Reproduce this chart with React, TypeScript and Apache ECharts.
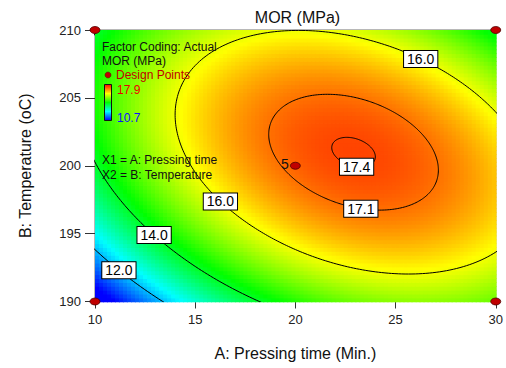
import React, { useEffect, useRef } from 'react';
import * as echarts from 'echarts';

const titleText = 'MOR (MPa)';
const xName = 'A: Pressing time (Min.)';
const yName = 'B: Temperature (oC)';
const xMin = 10, xMax = 30, xStep = 5;
const yMin = 190, yMax = 210, yStep = 5;
// Fitted quadratic model, coded units: x1=(A-20)/10, x2=(B-200)/10
const modelTerms = ['Intercept', 'A', 'B', 'AB', 'A^2', 'B^2'];
const modelCoefficients = [17.2, 1.27, 0.74, -1.21, -1.98, -1.95];
const colorRangeMax = 17.9;
const colorRangeMin = 10.7;
const contourLevels = [12.0, 14.0, 16.0, 17.1, 17.4];
const contourLabelLevels = [12.0, 14.0, 16.0, 16.0, 17.1, 17.4];
const contourLabelAngles = [216.6, 211.5, 208.6, 64, 275, 278];
const designA = [10, 10, 30, 30, 20];
const designB = [190, 210, 190, 210, 200];
const designReps = [1, 1, 1, 1, 5];
const palette = ['#0000ff', '#00ffff', '#00ff00', '#ffff00', '#ff0000'];
const legendLines = ['Factor Coding: Actual', 'MOR (MPa)'];
const factorLines = ['X1 = A: Pressing time', 'X2 = B: Temperature'];

const FONT = 'Arial, "Liberation Sans", sans-serif';

const coef = (name: string) => modelCoefficients[modelTerms.indexOf(name)];
const b0 = coef('Intercept'), b1 = coef('A'), b2 = coef('B');
const b12 = coef('AB'), b11 = coef('A^2'), b22 = coef('B^2');

function modelCoded(x1: number, x2: number) {
  return b0 + b1 * x1 + b2 * x2 + b12 * x1 * x2 + b11 * x1 * x1 + b22 * x2 * x2;
}
function modelActual(A: number, B: number) {
  return modelCoded((A - 20) / 10, (B - 200) / 10);
}
const det = 4 * b11 * b22 - b12 * b12;
const xs1 = (-2 * b1 * b22 + b12 * b2) / det;
const xs2 = (-2 * b11 * b2 + b12 * b1) / det;
const ys = modelCoded(xs1, xs2);

function ellipsePoint(level: number, deg: number): [number, number] {
  const t = (deg * Math.PI) / 180;
  const c = Math.cos(t), s = Math.sin(t);
  const q = -(b11 * c * c + b22 * s * s + b12 * c * s);
  const r = Math.sqrt(Math.max(0, ys - level) / q);
  return [20 + 10 * (xs1 + r * c), 200 + 10 * (xs2 + r * s)];
}

const nA = 100, nB = 70;
const dA = (xMax - xMin) / nA, dB = (yMax - yMin) / nB;
const heatData: number[][] = [];
for (let i = 0; i < nA; i++) {
  for (let j = 0; j < nB; j++) {
    const a = xMin + (i + 0.5) * dA;
    const b = yMin + (j + 0.5) * dB;
    heatData.push([a, b, modelActual(a, b)]);
  }
}

function colorFor(v: number) {
  let t = (v - colorRangeMin) / (colorRangeMax - colorRangeMin);
  t = Math.max(0, Math.min(1, t));
  return echarts.color.lerp(t, palette) as string;
}

export default function App() {
  const ref = useRef<HTMLDivElement>(null);
  useEffect(() => {
    if (!ref.current) return;
    const chart = echarts.init(ref.current, undefined, { renderer: 'svg' });
    const gridLeft = 95, gridTop = 30, gridW = 405, gridH = 271.5;

    const contourSeries = contourLevels.map((lv) => {
      const pts: number[][] = [];
      for (let k = 0; k <= 360; k += 1) pts.push(ellipsePoint(lv, k));
      return {
        type: 'line',
        data: pts,
        showSymbol: false,
        symbol: 'none',
        smooth: false,
        clip: true,
        silent: true,
        z: 3,
        lineStyle: { color: '#000', width: 1 },
      };
    });

    const labelData = contourLabelLevels.map((lv, i) => {
      const p = ellipsePoint(lv, contourLabelAngles[i]);
      return [p[0], p[1], lv.toFixed(1)];
    });

    const option: any = {
      animation: false,
      textStyle: { fontFamily: FONT },
      grid: {
        left: gridLeft, top: gridTop, width: gridW, height: gridH,
        show: true, borderColor: '#707070', borderWidth: 1,
        backgroundColor: 'transparent',
      },
      xAxis: {
        type: 'value', min: xMin, max: xMax, interval: xStep,
        splitLine: { show: false },
        axisLine: { show: true, onZero: false, lineStyle: { color: '#333', width: 1 } },
        axisTick: { show: true, inside: false, length: 7, lineStyle: { color: '#333' } },
        axisLabel: { fontSize: 13, color: '#222', margin: 11, fontFamily: FONT },
        name: xName, nameLocation: 'middle', nameGap: 44,
        nameTextStyle: { fontSize: 16, color: '#111', fontFamily: FONT },
      },
      yAxis: {
        type: 'value', min: yMin, max: yMax, interval: yStep,
        splitLine: { show: false },
        axisLine: { show: true, onZero: false, lineStyle: { color: '#333', width: 1 } },
        axisTick: { show: true, inside: false, length: 10, lineStyle: { color: '#333' } },
        axisLabel: { fontSize: 13, color: '#222', margin: 14, fontFamily: FONT },
        name: yName, nameLocation: 'middle', nameGap: 62, nameRotate: 90,
        nameTextStyle: { fontSize: 16, color: '#111', fontFamily: FONT },
      },
      series: [
        {
          type: 'custom',
          data: heatData,
          encode: { x: 0, y: 1 },
          clip: true,
          silent: true,
          z: 1,
          renderItem: (params: any, api: any) => {
            const a = api.value(0), b = api.value(1), v = api.value(2);
            const p0 = api.coord([a - dA / 2, b + dB / 2]);
            const p1 = api.coord([a + dA / 2, b - dB / 2]);
            return {
              type: 'rect',
              shape: { x: p0[0], y: p0[1], width: p1[0] - p0[0] + 0.8, height: p1[1] - p0[1] + 0.8 },
              style: { fill: colorFor(v) },
            };
          },
        },
        ...contourSeries,
        {
          type: 'scatter',
          data: labelData,
          symbol: 'circle',
          symbolSize: 1,
          itemStyle: { color: 'rgba(0,0,0,0)', opacity: 1 },
          z: 4,
          silent: true,
          clip: false,
          label: {
            show: true, position: 'inside',
            formatter: (p: any) => p.value[2],
            backgroundColor: '#ffffff', borderColor: '#000', borderWidth: 1,
            padding: [1, 3, 0, 3], fontSize: 14, lineHeight: 15, color: '#000', fontFamily: FONT,
            opacity: 1,
          },
          labelLayout: { hideOverlap: false },
        },
        {
          type: 'scatter',
          data: designA.map((a, i) => [a, designB[i], designReps[i]]),
          symbol: 'circle',
          symbolSize: [10, 7],
          clip: false,
          z: 5,
          silent: true,
          itemStyle: { color: '#c00000', borderColor: '#500000', borderWidth: 0.8, opacity: 1 },
          label: {
            show: true, position: 'left', distance: 1,
            formatter: (p: any) => (p.value[2] > 1 ? String(p.value[2]) : ''),
            fontSize: 14, color: '#111', fontFamily: FONT, offset: [0, -2],
          },
        },
      ],
      graphic: [
        {
          type: 'text', x: gridLeft + gridW / 2, y: 17, z: 10,
          style: { text: titleText, fill: '#111', font: `16px ${FONT}`, align: 'center', verticalAlign: 'middle' },
        },
        ...legendLines.map((t, i) => ({
          type: 'text', x: 102, y: 47 + i * 14, z: 10,
          style: { text: t, fill: '#111', font: `12px ${FONT}`, verticalAlign: 'middle' },
        })),
        {
          type: 'circle', shape: { cx: 108, cy: 75, r: 3 }, z: 10,
          style: { fill: '#c00000', stroke: '#500000', lineWidth: 0.5 },
        },
        {
          type: 'text', x: 116, y: 75, z: 10,
          style: { text: 'Design Points', fill: '#c00000', font: `12px ${FONT}`, verticalAlign: 'middle' },
        },
        {
          type: 'rect', shape: { x: 104.5, y: 84.5, width: 7, height: 36 }, z: 10,
          style: {
            fill: new echarts.graphic.LinearGradient(0, 0, 0, 1, palette.slice().reverse().map((c, i) => ({ offset: i / (palette.length - 1), color: c }))),
            stroke: '#111', lineWidth: 1,
          },
        },
        {
          type: 'text', x: 117, y: 90, z: 10,
          style: { text: colorRangeMax.toFixed(1), fill: '#ee0000', font: `12px ${FONT}`, verticalAlign: 'middle' },
        },
        {
          type: 'text', x: 117, y: 118, z: 10,
          style: { text: colorRangeMin.toFixed(1), fill: '#1010ff', font: `12px ${FONT}`, verticalAlign: 'middle' },
        },
        ...factorLines.map((t, i) => ({
          type: 'text', x: 102, y: 160 + i * 15, z: 10,
          style: { text: t, fill: '#111', font: `12px ${FONT}`, verticalAlign: 'middle' },
        })),
      ],
    };
    chart.setOption(option);
    return () => chart.dispose();
  }, []);
  return <div ref={ref} style={{ position: 'fixed', left: 0, top: 0, width: 506, height: 368, background: '#fff' }} />;
}
